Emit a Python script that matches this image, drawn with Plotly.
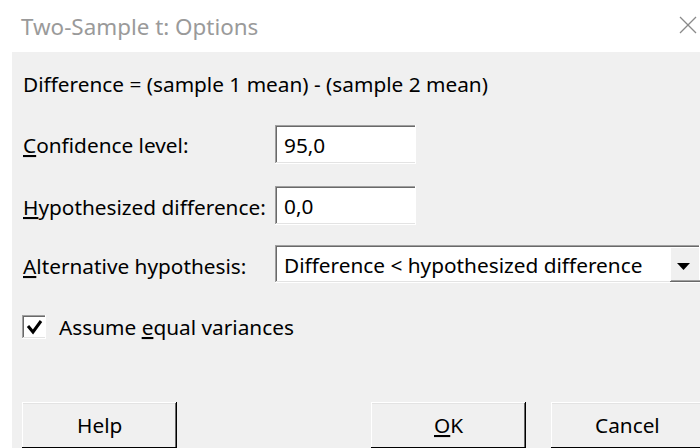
import plotly.graph_objects as go

# ---- content ----
window_title = "Two-Sample t: Options"
formula_text = "Difference = (sample 1 mean) - (sample 2 mean)"
field_labels = ["<u>C</u>onfidence level:", "<u>H</u>ypothesized difference:", "<u>A</u>lternative hypothesis:"]
field_values = ["95,0", "0,0", "Difference < hypothesized difference"]
checkbox_label = "Assume <u>e</u>qual variances"
checkbox_checked = True
button_labels = ["Help", "<u>O</u>K", "Cancel"]

# ---- layout geometry (pixels) ----
W, H = 700, 448
FONT = "Segoe UI, Noto Sans, DejaVu Sans, sans-serif"
FS = 20.8
BG = "#f0f0f0"

label_y = [145, 207, 266]
box_rects = [(275, 416, 125, 164), (275, 416, 186, 225), (275, 700, 245, 283)]
btn_rects = [(22, 177, 402, 450), (371, 526, 402, 450), (551, 704, 402, 450)]

shapes = []
annotations = []

def rect(x0, x1, y0, y1, fill, line=None, lw=0):
    shapes.append(dict(type="rect", xref="x", yref="y", x0=x0, x1=x1, y0=y0, y1=y1,
                       fillcolor=fill, line=dict(width=lw, color=line or fill), layer="below"))

def line(x0, y0, x1, y1, color, w=1):
    shapes.append(dict(type="line", xref="x", yref="y", x0=x0, y0=y0, x1=x1, y1=y1,
                       line=dict(color=color, width=w)))

def text(x, y, s, color="#000000", size=FS, anchor="left"):
    annotations.append(dict(x=x, y=y, xref="x", yref="y", text=s, showarrow=False,
                            xanchor=anchor, yanchor="middle",
                            font=dict(family=FONT, size=size, color=color)))

# window background
rect(0, W, 0, H, "#ffffff")
rect(12, W, 52, H, BG)

# title
text(19, 26, window_title, color="#9a9a9a", size=22.4)
line(680, 17, 696, 33, "#8a8a8a", 1.3)
line(696, 17, 680, 33, "#8a8a8a", 1.3)

# formula
text(21, 84, formula_text)

# labels
for lab, y in zip(field_labels, label_y):
    text(21, y, lab)

# sunken boxes
def sunken(x0, x1, y0, y1):
    rect(x0, x1, y0, y1, "#ffffff")
    line(x0, y0 + 0.5, x1, y0 + 0.5, "#a0a0a0", 1)
    line(x0 + 0.5, y0, x0 + 0.5, y1, "#a0a0a0", 1)
    line(x0 + 1, y0 + 1.5, x1 - 1, y0 + 1.5, "#696969", 1)
    line(x0 + 1.5, y0 + 1, x0 + 1.5, y1 - 1, "#696969", 1)
    line(x0, y1 - 0.5, x1, y1 - 0.5, "#ffffff", 1)
    line(x1 - 0.5, y0, x1 - 0.5, y1, "#ffffff", 1)
    line(x0 + 1, y1 - 1.5, x1 - 1, y1 - 1.5, "#e3e3e3", 1)

for (x0, x1, y0, y1), val in zip(box_rects, field_values):
    sunken(x0, x1, y0, y1)
    text(x0 + 7, (y0 + y1) / 2 + 0.5, val.replace("<", "&lt;"))

# dropdown button
dx0, dx1, dy0, dy1 = 670, 700, 247, 282
rect(dx0, dx1, dy0, dy1, BG)
line(dx0, dy0 + 0.5, dx1, dy0 + 0.5, "#ffffff", 1)
line(dx0 + 0.5, dy0, dx0 + 0.5, dy1, "#ffffff", 1)
line(dx0, dy1 - 0.5, dx1, dy1 - 0.5, "#696969", 1)
line(dx0 + 1, dy1 - 1.5, dx1, dy1 - 1.5, "#a0a0a0", 1)
shapes.append(dict(type="path", xref="x", yref="y",
                   path="M 677 263 L 690 263 L 683.5 270 Z",
                   fillcolor="#000000", line=dict(width=0)))

# checkbox
cx0, cx1, cy0, cy1 = 22, 46, 315, 339
sunken(cx0, cx1, cy0, cy1)
if checkbox_checked:
    shapes.append(dict(type="path", xref="x", yref="y",
                       path="M 28 326 L 33 332 L 41 321",
                       line=dict(color="#000000", width=3)))
text(57, 327, checkbox_label)

# buttons
for (x0, x1, y0, y1), lab in zip(btn_rects, button_labels):
    rect(x0, x1, y0, y1, BG)
    line(x0, y0 + 0.5, x1, y0 + 0.5, "#ffffff", 1)
    line(x0 + 0.5, y0, x0 + 0.5, y1, "#ffffff", 1)
    line(x0 + 1, y0 + 1.5, x1 - 2, y0 + 1.5, "#e3e3e3", 1)
    line(x1 - 0.5, y0, x1 - 0.5, y1, "#000000", 1)
    line(x1 - 1.5, y0 + 1, x1 - 1.5, y1, "#696969", 1)
    line(x0, y1 - 2.5, x1, y1 - 2.5, "#000000", 1)
    text((x0 + x1) / 2, 425, lab, anchor="center")

fig = go.Figure()
fig.update_layout(
    width=W, height=H, margin=dict(l=0, r=0, t=0, b=0),
    paper_bgcolor=BG, plot_bgcolor=BG,
    xaxis=dict(range=[0, W], visible=False, fixedrange=True),
    yaxis=dict(range=[H, 0], visible=False, fixedrange=True),
    shapes=shapes, annotations=annotations, showlegend=False,
)
fig.write_html("out.html", config={"displayModeBar": False},
               post_script="document.body.style.margin='0px';document.body.style.overflow='hidden';")
